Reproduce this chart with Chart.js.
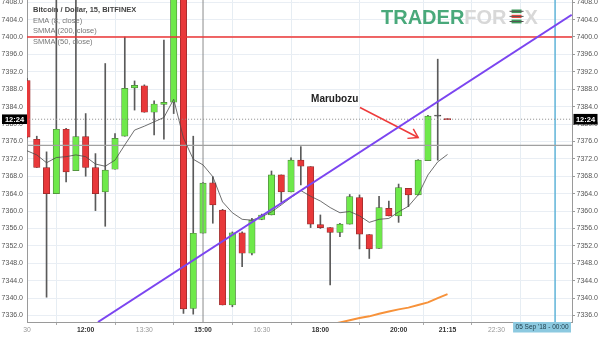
<!DOCTYPE html>
<html>
<head>
<meta charset="utf-8">
<script src="https://cdn.jsdelivr.net/npm/chart.js@4.4.0/dist/chart.umd.min.js"></script>
<style>
  html,body{margin:0;padding:0;background:#fff;}
  #wrap{width:600px;height:337px;position:relative;}
</style>
</head>
<body>
<div id="wrap"><canvas id="chart"></canvas></div>
<script>
// 15 min candles, index 0 = 10:30
const opens  = [7390.0,7376.5,7370.0,7364.0,7378.8,7369.3,7377.1,7370.0,7364.4,7369.6,7377.2,7388.3,7388.8,7382.7,7384.5,7385.0,7412.0,7337.6,7354.9,7366.5,7360.2,7338.4,7355.0,7350.3,7358.1,7359.1,7368.3,7364.4,7371.7,7370.2,7356.9,7356.2,7355.1,7357.0,7363.1,7354.6,7351.4,7360.6,7358.9,7365.2,7363.7,7371.6,7381.8,7381.2];
const highs  = [7390.5,7377.2,7373.6,7412.0,7379.0,7412.0,7382.4,7373.2,7393.9,7377.8,7400.0,7389.9,7389.0,7385.3,7399.3,7414.0,7414.0,7377.2,7366.6,7367.9,7360.4,7355.2,7355.2,7358.3,7359.3,7369.2,7368.3,7372.2,7374.8,7370.2,7359.1,7356.2,7357.2,7363.8,7363.7,7354.6,7363.4,7362.3,7366.2,7365.2,7371.8,7382.0,7394.9,7381.2];
const lows   = [7376.8,7370.0,7340.2,7364.0,7366.7,7369.3,7368.0,7360.1,7356.5,7369.6,7377.2,7383.2,7382.7,7377.5,7376.5,7382.4,7336.5,7336.3,7354.9,7357.2,7338.4,7338.0,7347.2,7349.9,7358.0,7359.1,7362.1,7364.4,7366.0,7356.2,7356.0,7343.0,7354.1,7357.0,7351.3,7349.1,7351.4,7358.9,7357.4,7361.0,7363.7,7371.6,7371.7,7381.0];
const closes = [7377.0,7370.0,7364.0,7378.8,7369.0,7377.1,7370.0,7364.0,7369.4,7376.7,7388.2,7388.9,7382.7,7384.6,7385.0,7412.0,7337.5,7354.9,7366.4,7361.4,7338.4,7355.0,7350.3,7357.9,7359.1,7368.3,7364.4,7371.7,7370.3,7357.0,7356.2,7355.1,7357.0,7363.3,7354.7,7351.3,7360.8,7358.9,7365.4,7363.7,7371.7,7381.8,7381.9,7381.0];

const ema8 = [7373.85,7372.9,7371.1,7372.3,7372.5,7372.9,7372.5,7370.8,7370.3,7371.7,7375.2,7378.6,7379.5,7380.5,7381.5,7385.7,7376.8,7371.9,7370.6,7367.9,7362.1,7359.6,7358.1,7357.9,7358.7,7359.8,7361.4,7363.1,7364.7,7363.4,7362.3,7360.8,7359.6,7359.9,7358.9,7357.4,7358.1,7358.3,7359.8,7361.1,7363.7,7368.3,7371.3,7373.0];

const smmaStart = 31;
const smma50 = [7333.9,7334.4,7334.9,7335.4,7335.8,7336.4,7336.9,7337.4,7337.8,7338.4,7339.0,7340.0,7340.9];

const xTickIdx  = [0,6,12,18,24,30,38,43,48];
const xTickText = ['30','12:00','13:30','15:00','16:30','18:00','20:00','21:15','22:30'];
const xTickBold = [false,true,false,true,false,true,true,true,false];
const yTicks = [7336,7340,7344,7348,7352,7356,7360,7364,7368,7372,7376,7380,7384,7388,7392,7396,7400,7404,7408];

const redLevel = 7400;
const grayLevel = 7375.1;
const lastPrice = 7381.1;
const sessionIdx = 18;
const dateIdx = 54;
const dateText = "05 Sep '18 - 00:00";
const countdown = '12:24';
const trendLine = [{x:7.26, y:7334.5},{x:55.7, y:7405.1}];
const arrowShaft = [{x:34.05, y:7383.8},{x:40.0, y:7376.9}];
const arrowHead = [{x:39.5, y:7378.9},{x:40.0, y:7376.9},{x:38.9, y:7376.7}];
const noteText = 'Marubozu';
const notePos = {x:31.46, y:7385.7};
const legendLines = ['Bitcoin / Dollar, 15, BITFINEX','EMA (8, close)','SMMA (200, close)','SMMA (50, close)'];

const FONT = '"Liberation Sans", Arial, sans-serif';
Chart.defaults.font.family = FONT;

const bodyColors = opens.map((o,i)=> Math.abs(closes[i]-o) < 0.15 ? '#555555' : (closes[i] >= o ? '#6ee94a' : '#e8383a'));
const bodyBorders = opens.map((o,i)=> Math.abs(closes[i]-o) < 0.15 ? '#444444' : (closes[i] >= o ? '#4d7d3d' : '#8e2a2a'));

function hline(v){ return [{x:-5, y:v},{x:60, y:v}]; }
function vline(i){ return [{x:i, y:7300},{x:i, y:7420}]; }

const lineBase = {type:'line', pointRadius:0, tension:0, fill:false};

const overlay = {
  id:'overlay',
  beforeDatasetsDraw(chart){
    const ctx = chart.ctx;
    ctx.save();
    ctx.font = 'bold 20px ' + FONT;
    ctx.textBaseline = 'alphabetic';
    let x = 381, y = 23.5;
    ctx.fillStyle = '#49a97b';
    ctx.fillText('TRADER', x, y);
    x += ctx.measureText('TRADER').width;
    ctx.fillStyle = '#d8d8d8';
    ctx.fillText('FOR', x, y);
    x += ctx.measureText('FOR').width + 4;
    // candle icon used as the E
    ctx.fillStyle = '#3d9a5a'; ctx.fillRect(x+1, 9.5, 10, 3.6);
    ctx.fillStyle = '#e8483e'; ctx.fillRect(x+1, 14.8, 10, 3.2);
    ctx.fillStyle = '#3d9a5a'; ctx.fillRect(x+1, 19.6, 10, 3.8);
    ctx.strokeStyle = '#555'; ctx.lineWidth = 1;
    ctx.beginPath();
    ctx.moveTo(x-1, 11.3); ctx.lineTo(x+13, 11.3);
    ctx.moveTo(x-1, 16.4); ctx.lineTo(x+13, 16.4);
    ctx.moveTo(x-1, 21.5); ctx.lineTo(x+13, 21.5);
    ctx.stroke();
    ctx.fillStyle = '#d8d8d8';
    ctx.fillText('X', x+14, y);
    ctx.restore();
  },
  afterDatasetsDraw(chart){
    const ctx = chart.ctx, xs = chart.scales.x, ys = chart.scales.y;
    ctx.save();
    ctx.font = 'bold 10px ' + FONT;
    ctx.fillStyle = '#222';
    ctx.textAlign = 'center';
    ctx.textBaseline = 'middle';
    ctx.fillText(noteText, xs.getPixelForValue(notePos.x), ys.getPixelForValue(notePos.y));
    ctx.restore();
  },
  afterDraw(chart){
    const ctx = chart.ctx, xs = chart.scales.x, ys = chart.scales.y, area = chart.chartArea;
    ctx.save();
    // legend
    ctx.textBaseline = 'middle';
    ctx.textAlign = 'left';
    legendLines.forEach((t,i)=>{
      ctx.font = (i === 0 ? 'bold ' : '') + '7.5px ' + FONT;
      ctx.fillStyle = i === 0 ? '#444' : '#777';
      ctx.fillText(t, area.left + 6, 10 + i*10.5);
    });
    // countdown boxes on the last price
    const yc = ys.getPixelForValue(lastPrice);
    ctx.fillStyle = '#000';
    ctx.fillRect(2, yc-4.8, 25, 9.6);
    ctx.fillRect(area.right + 1.5, yc-5.3, 24, 10.6);
    ctx.fillStyle = '#fff';
    ctx.font = 'bold 7.5px ' + FONT;
    ctx.textAlign = 'center';
    ctx.fillText(countdown, 14.5, yc+0.5);
    ctx.fillText(countdown, area.right + 13.5, yc+0.5);
    // date box on the x axis
    ctx.font = '6.5px ' + FONT;
    const w = ctx.measureText(dateText).width + 5;
    const px = xs.getPixelForValue(dateIdx);
    const right = Math.min(px + w/2, area.right - 1);
    ctx.fillStyle = '#8cc9e0';
    ctx.fillRect(right - w, area.bottom, w, 10.5);
    ctx.fillStyle = '#22404e';
    ctx.fillText(dateText, right - w/2, area.bottom + 5.5);
    ctx.restore();
  }
};

new Chart(document.getElementById('chart'), {
  type:'bar',
  data:{
    datasets:[
      {...lineBase, data: trendLine, borderColor:'#7b45f0', borderWidth:2, order:0},
      {...lineBase, data: arrowShaft, borderColor:'#ee3a3a', borderWidth:1.5, order:0},
      {...lineBase, data: arrowHead, borderColor:'#ee3a3a', borderWidth:1.5, order:0},
      {...lineBase, data: hline(redLevel), borderColor:'#ec3434', borderWidth:1.5, order:1},
      {...lineBase, data: ema8.map((v,i)=>({x:i, y:v})), borderColor:'#4a4a4a', borderWidth:0.8, order:1},
      {...lineBase, data: smma50.map((v,i)=>({x:smmaStart+i, y:v})), borderColor:'#f7923a', borderWidth:2, order:1},
      {...lineBase, data: hline(grayLevel), borderColor:'#a0a0a0', borderWidth:1.2, order:1},
      {...lineBase, data: hline(lastPrice), borderColor:'#8a8a8a', borderWidth:1, borderDash:[1,2], order:1},
      {...lineBase, data: vline(dateIdx), borderColor:'#5fb3d8', borderWidth:1.5, order:1},
      {...lineBase, data: vline(sessionIdx), borderColor:'#8c8c8c', borderWidth:1, order:1},
      {type:'bar', data: opens.map((o,i)=>({x:i, y:[o, closes[i]]})), backgroundColor: bodyColors,
        borderColor: bodyBorders, borderWidth:0.7, borderSkipped:false, barThickness:6.4, minBarLength:1.2, grouped:false, order:2},
      {type:'bar', data: highs.map((h,i)=>({x:i, y:[lows[i], h]})), backgroundColor:'#5a5a5a',
        borderWidth:0, barThickness:1, minBarLength:1, grouped:false, order:3}
    ]
  },
  options:{
    responsive:true,
    maintainAspectRatio:false,
    animation:false,
    layout:{padding:0},
    plugins:{legend:{display:false}, tooltip:{enabled:false}},
    scales:{
      x:{
        type:'linear', min:0, max:55.73, offset:false,
        grid:{color:'#e6edf3', tickLength:3, tickColor:'#aaa'},
        border:{color:'#9a9a9a'},
        afterBuildTicks: s => { s.ticks = xTickIdx.map(v=>({value:v})); },
        afterFit: s => { s.height = 15; s.paddingLeft = 0; s.paddingRight = 0; },
        ticks:{
          autoSkip:false, maxRotation:0, padding:1.5,
          callback:(v,i)=> xTickText[i],
          color: c => xTickBold[c.index] ? '#333' : '#999',
          font: c => ({size:6.8, family:FONT, weight: xTickBold[c.index] ? 'bold' : 'normal'})
        }
      },
      y:{
        type:'linear', position:'right', min:7334.5, max:7408.5,
        grid:{color:'#e9eef4', tickLength:3, tickColor:'#999'},
        border:{color:'#9a9a9a'},
        afterBuildTicks: s => { s.ticks = yTicks.map(v=>({value:v})); },
        afterFit: s => { s.width = 28; s.paddingTop = 0; s.paddingBottom = 0; },
        ticks:{callback:v=>v.toFixed(1), color:'#555', padding:1.5, font:{size:7, family:FONT}}
      },
      yL:{
        type:'linear', position:'left', min:7334.5, max:7408.5,
        grid:{drawOnChartArea:false, drawTicks:false},
        border:{color:'#9a9a9a'},
        afterBuildTicks: s => { s.ticks = yTicks.map(v=>({value:v})); },
        afterFit: s => { s.width = 27; s.paddingTop = 0; s.paddingBottom = 0; },
        ticks:{callback:v=>v.toFixed(1), color:'#555', padding:4, font:{size:7, family:FONT}}
      }
    }
  },
  plugins:[overlay]
});
</script>
</body>
</html>
